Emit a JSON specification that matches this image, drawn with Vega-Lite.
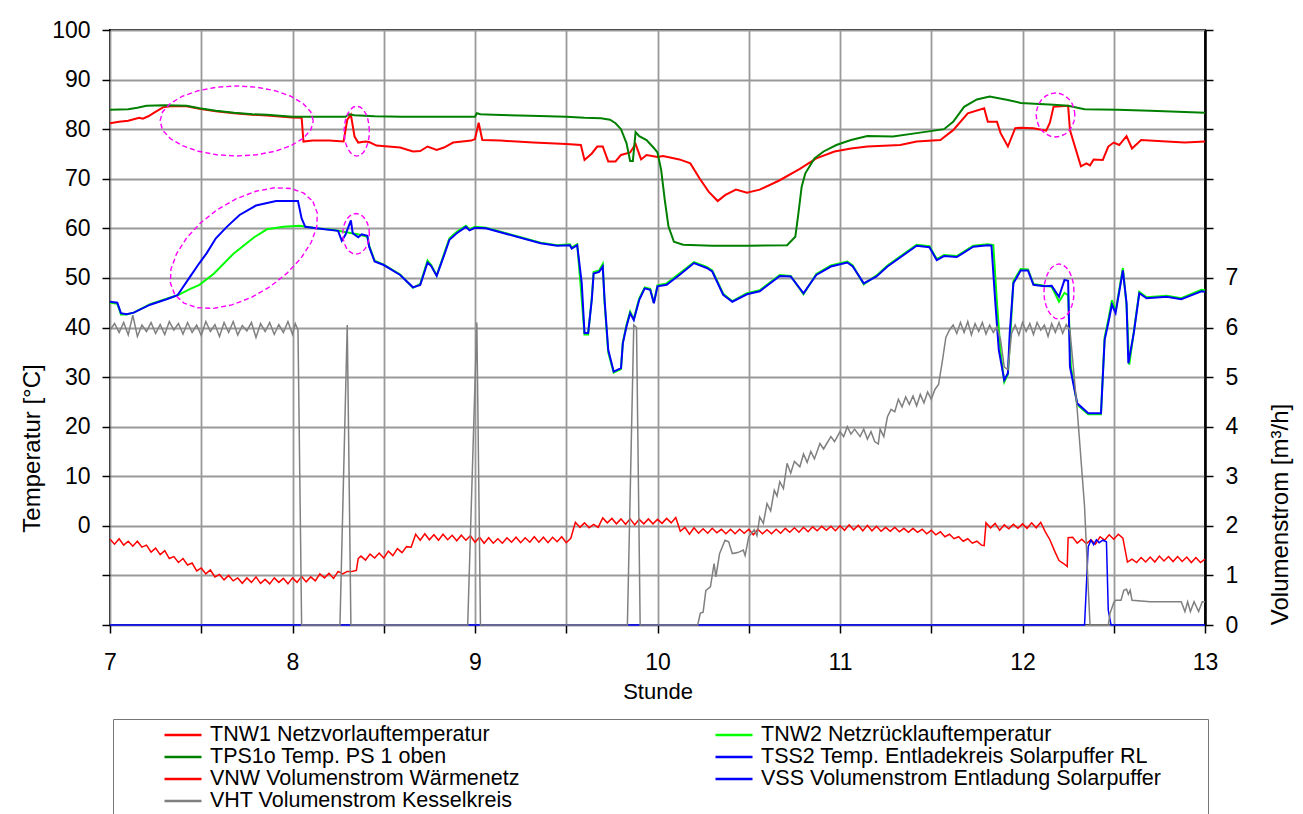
{
"$schema": "https://vega.github.io/schema/vega-lite/v6.json",
"width": 1095, "height": 595,
"autosize": {"type": "none"},
"padding": {"left": 110, "top": 30, "right": 98, "bottom": 189},
"background": "white",
"config": {
 "font": "Liberation Sans",
 "view": {"stroke": "#000", "strokeWidth": 2},
 "axis": {"labelFont": "Liberation Sans", "titleFont": "Liberation Sans", "labelColor": "#000", "titleColor": "#000", "tickColor": "#000", "domainColor": "#000", "titleFontWeight": "normal", "gridColor": "#999", "gridWidth": 1.8, "tickSize": 8, "tickWidth": 1.5, "labelFontSize": 23, "titleFontSize": 24}
},
"datasets": {
"temp": [
{"s":"TNW1","t":7,"v":81.2},{"s":"TNW1","t":7.05,"v":81.5},{"s":"TNW1","t":7.1,"v":81.7},{"s":"TNW1","t":7.13,"v":82.0},{"s":"TNW1","t":7.16,"v":82.3},{"s":"TNW1","t":7.18,"v":82.1},{"s":"TNW1","t":7.21,"v":82.6},{"s":"TNW1","t":7.24,"v":83.3},{"s":"TNW1","t":7.29,"v":84.4},{"s":"TNW1","t":7.33,"v":84.6},{"s":"TNW1","t":7.42,"v":84.6},{"s":"TNW1","t":7.49,"v":84.1},{"s":"TNW1","t":7.58,"v":83.6},{"s":"TNW1","t":7.68,"v":83.2},{"s":"TNW1","t":7.78,"v":82.9},{"s":"TNW1","t":7.86,"v":82.75},{"s":"TNW1","t":8.0,"v":82.35},{"s":"TNW1","t":8.05,"v":82.3},{"s":"TNW1","t":8.06,"v":77.5},{"s":"TNW1","t":8.11,"v":77.7},{"s":"TNW1","t":8.2,"v":77.7},{"s":"TNW1","t":8.28,"v":77.5},{"s":"TNW1","t":8.3,"v":81.9},{"s":"TNW1","t":8.32,"v":82.9},{"s":"TNW1","t":8.34,"v":78.5},{"s":"TNW1","t":8.36,"v":77.3},{"s":"TNW1","t":8.4,"v":77.5},{"s":"TNW1","t":8.42,"v":77.4},{"s":"TNW1","t":8.46,"v":76.7},{"s":"TNW1","t":8.59,"v":76.3},{"s":"TNW1","t":8.66,"v":75.5},{"s":"TNW1","t":8.7,"v":75.6},{"s":"TNW1","t":8.74,"v":76.5},{"s":"TNW1","t":8.79,"v":75.8},{"s":"TNW1","t":8.83,"v":76.3},{"s":"TNW1","t":8.88,"v":77.3},{"s":"TNW1","t":8.98,"v":77.7},{"s":"TNW1","t":9.0,"v":78.0},{"s":"TNW1","t":9.02,"v":81.3},{"s":"TNW1","t":9.04,"v":77.8},{"s":"TNW1","t":9.14,"v":77.7},{"s":"TNW1","t":9.32,"v":77.3},{"s":"TNW1","t":9.5,"v":77.0},{"s":"TNW1","t":9.58,"v":76.8},{"s":"TNW1","t":9.6,"v":73.8},{"s":"TNW1","t":9.64,"v":75.1},{"s":"TNW1","t":9.67,"v":76.5},{"s":"TNW1","t":9.7,"v":76.5},{"s":"TNW1","t":9.73,"v":73.5},{"s":"TNW1","t":9.77,"v":73.5},{"s":"TNW1","t":9.8,"v":74.8},{"s":"TNW1","t":9.85,"v":75.3},{"s":"TNW1","t":9.88,"v":77.0},{"s":"TNW1","t":9.91,"v":73.9},{"s":"TNW1","t":9.94,"v":74.8},{"s":"TNW1","t":10.0,"v":74.4},{"s":"TNW1","t":10.03,"v":74.6},{"s":"TNW1","t":10.12,"v":73.9},{"s":"TNW1","t":10.18,"v":73.1},{"s":"TNW1","t":10.23,"v":70.1},{"s":"TNW1","t":10.28,"v":67.4},{"s":"TNW1","t":10.33,"v":65.5},{"s":"TNW1","t":10.37,"v":66.7},{"s":"TNW1","t":10.43,"v":67.8},{"s":"TNW1","t":10.49,"v":67.2},{"s":"TNW1","t":10.56,"v":67.8},{"s":"TNW1","t":10.67,"v":69.7},{"s":"TNW1","t":10.78,"v":72.0},{"s":"TNW1","t":10.87,"v":74.1},{"s":"TNW1","t":10.97,"v":75.5},{"s":"TNW1","t":11.06,"v":76.1},{"s":"TNW1","t":11.15,"v":76.5},{"s":"TNW1","t":11.33,"v":76.8},{"s":"TNW1","t":11.42,"v":77.5},{"s":"TNW1","t":11.55,"v":77.8},{"s":"TNW1","t":11.62,"v":79.8},{"s":"TNW1","t":11.7,"v":83.2},{"s":"TNW1","t":11.79,"v":84.2},{"s":"TNW1","t":11.81,"v":81.5},{"s":"TNW1","t":11.86,"v":81.5},{"s":"TNW1","t":11.88,"v":79.2},{"s":"TNW1","t":11.92,"v":76.5},{"s":"TNW1","t":11.96,"v":80.2},{"s":"TNW1","t":11.99,"v":80.3},{"s":"TNW1","t":12.06,"v":80.2},{"s":"TNW1","t":12.13,"v":79.7},{"s":"TNW1","t":12.15,"v":81.3},{"s":"TNW1","t":12.17,"v":84.5},{"s":"TNW1","t":12.25,"v":84.7},{"s":"TNW1","t":12.26,"v":79.8},{"s":"TNW1","t":12.32,"v":72.5},{"s":"TNW1","t":12.35,"v":73.1},{"s":"TNW1","t":12.37,"v":72.7},{"s":"TNW1","t":12.39,"v":73.9},{"s":"TNW1","t":12.44,"v":73.8},{"s":"TNW1","t":12.47,"v":76.5},{"s":"TNW1","t":12.5,"v":77.3},{"s":"TNW1","t":12.53,"v":76.8},{"s":"TNW1","t":12.57,"v":78.6},{"s":"TNW1","t":12.6,"v":76.1},{"s":"TNW1","t":12.65,"v":77.8},{"s":"TNW1","t":12.79,"v":77.5},{"s":"TNW1","t":12.89,"v":77.3},{"s":"TNW1","t":13.0,"v":77.5},
{"s":"TNW2","t":7,"v":45.0},{"s":"TNW2","t":7.04,"v":44.8},{"s":"TNW2","t":7.06,"v":42.6},{"s":"TNW2","t":7.09,"v":42.6},{"s":"TNW2","t":7.13,"v":43.0},{"s":"TNW2","t":7.22,"v":44.7},{"s":"TNW2","t":7.31,"v":45.8},{"s":"TNW2","t":7.37,"v":46.5},{"s":"TNW2","t":7.44,"v":47.8},{"s":"TNW2","t":7.49,"v":48.6},{"s":"TNW2","t":7.57,"v":50.9},{"s":"TNW2","t":7.68,"v":55.0},{"s":"TNW2","t":7.79,"v":58.2},{"s":"TNW2","t":7.86,"v":59.8},{"s":"TNW2","t":7.95,"v":60.3},{"s":"TNW2","t":8.04,"v":60.5},{"s":"TNW2","t":8.13,"v":60.0},{"s":"TNW2","t":8.22,"v":59.7},{"s":"TNW2","t":8.28,"v":59.3},{"s":"TNW2","t":8.37,"v":58.7},{"s":"TNW2","t":8.41,"v":58.3},{"s":"TNW2","t":8.42,"v":56.5},{"s":"TNW2","t":8.45,"v":53.5},{"s":"TNW2","t":8.5,"v":52.7},{"s":"TNW2","t":8.59,"v":50.7},{"s":"TNW2","t":8.66,"v":48.0},{"s":"TNW2","t":8.7,"v":48.8},{"s":"TNW2","t":8.74,"v":53.5},{"s":"TNW2","t":8.76,"v":52.6},{"s":"TNW2","t":8.79,"v":50.5},{"s":"TNW2","t":8.83,"v":54.8},{"s":"TNW2","t":8.86,"v":58.0},{"s":"TNW2","t":8.9,"v":59.3},{"s":"TNW2","t":8.95,"v":60.5},{"s":"TNW2","t":8.97,"v":59.8},{"s":"TNW2","t":9.0,"v":60.3},{"s":"TNW2","t":9.06,"v":60.1},{"s":"TNW2","t":9.23,"v":58.4},{"s":"TNW2","t":9.36,"v":57.1},{"s":"TNW2","t":9.45,"v":56.6},{"s":"TNW2","t":9.52,"v":56.8},{"s":"TNW2","t":9.53,"v":56.1},{"s":"TNW2","t":9.56,"v":56.8},{"s":"TNW2","t":9.58,"v":48.0},{"s":"TNW2","t":9.6,"v":38.6},{"s":"TNW2","t":9.62,"v":38.6},{"s":"TNW2","t":9.64,"v":46.0},{"s":"TNW2","t":9.65,"v":51.2},{"s":"TNW2","t":9.68,"v":51.5},{"s":"TNW2","t":9.7,"v":52.8},{"s":"TNW2","t":9.71,"v":45.0},{"s":"TNW2","t":9.73,"v":35.0},{"s":"TNW2","t":9.76,"v":30.9},{"s":"TNW2","t":9.8,"v":31.6},{"s":"TNW2","t":9.81,"v":37.0},{"s":"TNW2","t":9.83,"v":40.5},{"s":"TNW2","t":9.85,"v":43.2},{"s":"TNW2","t":9.87,"v":41.7},{"s":"TNW2","t":9.9,"v":45.9},{"s":"TNW2","t":9.93,"v":48.1},{"s":"TNW2","t":9.96,"v":47.8},{"s":"TNW2","t":9.98,"v":45.0},{"s":"TNW2","t":10.0,"v":48.5},{"s":"TNW2","t":10.05,"v":48.9},{"s":"TNW2","t":10.12,"v":50.9},{"s":"TNW2","t":10.2,"v":53.2},{"s":"TNW2","t":10.27,"v":52.2},{"s":"TNW2","t":10.3,"v":51.5},{"s":"TNW2","t":10.36,"v":46.8},{"s":"TNW2","t":10.41,"v":45.3},{"s":"TNW2","t":10.49,"v":46.9},{"s":"TNW2","t":10.56,"v":47.5},{"s":"TNW2","t":10.67,"v":50.6},{"s":"TNW2","t":10.73,"v":50.4},{"s":"TNW2","t":10.8,"v":46.7},{"s":"TNW2","t":10.87,"v":50.8},{"s":"TNW2","t":10.95,"v":52.5},{"s":"TNW2","t":11.04,"v":53.3},{"s":"TNW2","t":11.07,"v":52.5},{"s":"TNW2","t":11.13,"v":48.7},{"s":"TNW2","t":11.2,"v":50.5},{"s":"TNW2","t":11.26,"v":52.5},{"s":"TNW2","t":11.42,"v":56.7},{"s":"TNW2","t":11.49,"v":56.4},{"s":"TNW2","t":11.53,"v":53.8},{"s":"TNW2","t":11.57,"v":54.6},{"s":"TNW2","t":11.64,"v":54.4},{"s":"TNW2","t":11.73,"v":56.5},{"s":"TNW2","t":11.81,"v":56.8},{"s":"TNW2","t":11.84,"v":56.6},{"s":"TNW2","t":11.86,"v":45.0},{"s":"TNW2","t":11.88,"v":35.0},{"s":"TNW2","t":11.9,"v":29.0},{"s":"TNW2","t":11.92,"v":30.5},{"s":"TNW2","t":11.935,"v":39.5},{"s":"TNW2","t":11.95,"v":49.3},{"s":"TNW2","t":11.99,"v":51.8},{"s":"TNW2","t":12.03,"v":51.7},{"s":"TNW2","t":12.06,"v":48.8},{"s":"TNW2","t":12.12,"v":48.4},{"s":"TNW2","t":12.16,"v":48.2},{"s":"TNW2","t":12.2,"v":45.2},{"s":"TNW2","t":12.23,"v":47.0},{"s":"TNW2","t":12.25,"v":46.5},{"s":"TNW2","t":12.265,"v":32.1},{"s":"TNW2","t":12.3,"v":24.4},{"s":"TNW2","t":12.36,"v":22.5},{"s":"TNW2","t":12.43,"v":22.5},{"s":"TNW2","t":12.45,"v":38.0},{"s":"TNW2","t":12.47,"v":41.5},{"s":"TNW2","t":12.49,"v":45.5},{"s":"TNW2","t":12.51,"v":43.2},{"s":"TNW2","t":12.55,"v":52.0},{"s":"TNW2","t":12.57,"v":44.5},{"s":"TNW2","t":12.585,"v":32.5},{"s":"TNW2","t":12.61,"v":39.2},{"s":"TNW2","t":12.64,"v":47.2},{"s":"TNW2","t":12.68,"v":46.1},{"s":"TNW2","t":12.79,"v":46.4},{"s":"TNW2","t":12.87,"v":45.9},{"s":"TNW2","t":12.98,"v":47.6},{"s":"TNW2","t":13.0,"v":47.5},
{"s":"TPS1o","t":7,"v":83.9},{"s":"TPS1o","t":7.1,"v":84.0},{"s":"TPS1o","t":7.15,"v":84.3},{"s":"TPS1o","t":7.2,"v":84.7},{"s":"TPS1o","t":7.3,"v":84.8},{"s":"TPS1o","t":7.42,"v":84.7},{"s":"TPS1o","t":7.49,"v":84.2},{"s":"TPS1o","t":7.58,"v":83.7},{"s":"TPS1o","t":7.68,"v":83.3},{"s":"TPS1o","t":7.78,"v":83.0},{"s":"TPS1o","t":7.86,"v":82.9},{"s":"TPS1o","t":8.0,"v":82.5},{"s":"TPS1o","t":8.1,"v":82.5},{"s":"TPS1o","t":8.29,"v":82.5},{"s":"TPS1o","t":8.31,"v":83.0},{"s":"TPS1o","t":8.34,"v":82.8},{"s":"TPS1o","t":8.45,"v":82.6},{"s":"TPS1o","t":8.6,"v":82.5},{"s":"TPS1o","t":8.8,"v":82.5},{"s":"TPS1o","t":9.0,"v":82.5},{"s":"TPS1o","t":9.01,"v":83.2},{"s":"TPS1o","t":9.03,"v":83.0},{"s":"TPS1o","t":9.1,"v":82.9},{"s":"TPS1o","t":9.3,"v":82.7},{"s":"TPS1o","t":9.5,"v":82.5},{"s":"TPS1o","t":9.6,"v":82.3},{"s":"TPS1o","t":9.69,"v":82.2},{"s":"TPS1o","t":9.74,"v":81.9},{"s":"TPS1o","t":9.77,"v":81.2},{"s":"TPS1o","t":9.8,"v":80.0},{"s":"TPS1o","t":9.83,"v":77.2},{"s":"TPS1o","t":9.85,"v":73.6},{"s":"TPS1o","t":9.865,"v":73.6},{"s":"TPS1o","t":9.88,"v":79.4},{"s":"TPS1o","t":9.9,"v":78.6},{"s":"TPS1o","t":9.94,"v":77.8},{"s":"TPS1o","t":9.98,"v":76.2},{"s":"TPS1o","t":10.0,"v":75.3},{"s":"TPS1o","t":10.02,"v":71.8},{"s":"TPS1o","t":10.04,"v":65.7},{"s":"TPS1o","t":10.06,"v":60.4},{"s":"TPS1o","t":10.09,"v":57.3},{"s":"TPS1o","t":10.14,"v":56.7},{"s":"TPS1o","t":10.3,"v":56.5},{"s":"TPS1o","t":10.5,"v":56.5},{"s":"TPS1o","t":10.71,"v":56.6},{"s":"TPS1o","t":10.755,"v":58.3},{"s":"TPS1o","t":10.77,"v":62.4},{"s":"TPS1o","t":10.79,"v":68.4},{"s":"TPS1o","t":10.81,"v":71.1},{"s":"TPS1o","t":10.86,"v":74.1},{"s":"TPS1o","t":10.91,"v":75.5},{"s":"TPS1o","t":10.98,"v":76.8},{"s":"TPS1o","t":11.06,"v":77.8},{"s":"TPS1o","t":11.15,"v":78.6},{"s":"TPS1o","t":11.29,"v":78.5},{"s":"TPS1o","t":11.42,"v":79.2},{"s":"TPS1o","t":11.57,"v":80.0},{"s":"TPS1o","t":11.62,"v":81.5},{"s":"TPS1o","t":11.68,"v":84.5},{"s":"TPS1o","t":11.75,"v":86.0},{"s":"TPS1o","t":11.82,"v":86.6},{"s":"TPS1o","t":11.92,"v":85.9},{"s":"TPS1o","t":11.99,"v":85.3},{"s":"TPS1o","t":12.17,"v":84.9},{"s":"TPS1o","t":12.25,"v":84.7},{"s":"TPS1o","t":12.34,"v":84.0},{"s":"TPS1o","t":12.52,"v":83.9},{"s":"TPS1o","t":12.7,"v":83.7},{"s":"TPS1o","t":13.0,"v":83.3},
{"s":"TSS2","t":7,"v":45.2},{"s":"TSS2","t":7.04,"v":45.0},{"s":"TSS2","t":7.06,"v":42.9},{"s":"TSS2","t":7.09,"v":42.7},{"s":"TSS2","t":7.13,"v":43.0},{"s":"TSS2","t":7.22,"v":44.6},{"s":"TSS2","t":7.31,"v":45.7},{"s":"TSS2","t":7.37,"v":46.5},{"s":"TSS2","t":7.44,"v":50.3},{"s":"TSS2","t":7.49,"v":53.0},{"s":"TSS2","t":7.53,"v":55.0},{"s":"TSS2","t":7.58,"v":58.0},{"s":"TSS2","t":7.64,"v":60.3},{"s":"TSS2","t":7.71,"v":62.7},{"s":"TSS2","t":7.8,"v":64.6},{"s":"TSS2","t":7.91,"v":65.5},{"s":"TSS2","t":8.03,"v":65.5},{"s":"TSS2","t":8.05,"v":62.0},{"s":"TSS2","t":8.07,"v":60.3},{"s":"TSS2","t":8.13,"v":60.0},{"s":"TSS2","t":8.25,"v":59.5},{"s":"TSS2","t":8.27,"v":57.5},{"s":"TSS2","t":8.29,"v":58.7},{"s":"TSS2","t":8.32,"v":61.6},{"s":"TSS2","t":8.33,"v":59.0},{"s":"TSS2","t":8.36,"v":58.2},{"s":"TSS2","t":8.38,"v":58.8},{"s":"TSS2","t":8.41,"v":58.5},{"s":"TSS2","t":8.42,"v":56.3},{"s":"TSS2","t":8.45,"v":53.3},{"s":"TSS2","t":8.5,"v":52.6},{"s":"TSS2","t":8.59,"v":50.6},{"s":"TSS2","t":8.66,"v":48.1},{"s":"TSS2","t":8.7,"v":48.6},{"s":"TSS2","t":8.74,"v":53.1},{"s":"TSS2","t":8.76,"v":52.4},{"s":"TSS2","t":8.79,"v":50.4},{"s":"TSS2","t":8.83,"v":54.5},{"s":"TSS2","t":8.86,"v":57.7},{"s":"TSS2","t":8.9,"v":59.0},{"s":"TSS2","t":8.95,"v":60.3},{"s":"TSS2","t":8.97,"v":59.6},{"s":"TSS2","t":9.0,"v":60.1},{"s":"TSS2","t":9.06,"v":60.0},{"s":"TSS2","t":9.23,"v":58.3},{"s":"TSS2","t":9.36,"v":57.0},{"s":"TSS2","t":9.45,"v":56.5},{"s":"TSS2","t":9.52,"v":56.6},{"s":"TSS2","t":9.53,"v":55.9},{"s":"TSS2","t":9.56,"v":56.6},{"s":"TSS2","t":9.585,"v":48.9},{"s":"TSS2","t":9.6,"v":38.9},{"s":"TSS2","t":9.62,"v":38.9},{"s":"TSS2","t":9.64,"v":45.6},{"s":"TSS2","t":9.65,"v":50.9},{"s":"TSS2","t":9.68,"v":51.2},{"s":"TSS2","t":9.7,"v":52.3},{"s":"TSS2","t":9.71,"v":45.6},{"s":"TSS2","t":9.73,"v":35.5},{"s":"TSS2","t":9.76,"v":31.1},{"s":"TSS2","t":9.8,"v":31.8},{"s":"TSS2","t":9.81,"v":36.8},{"s":"TSS2","t":9.83,"v":40.2},{"s":"TSS2","t":9.85,"v":42.9},{"s":"TSS2","t":9.87,"v":41.5},{"s":"TSS2","t":9.9,"v":45.6},{"s":"TSS2","t":9.93,"v":47.9},{"s":"TSS2","t":9.96,"v":47.6},{"s":"TSS2","t":9.98,"v":44.9},{"s":"TSS2","t":10.0,"v":48.3},{"s":"TSS2","t":10.05,"v":48.6},{"s":"TSS2","t":10.12,"v":50.6},{"s":"TSS2","t":10.2,"v":53.0},{"s":"TSS2","t":10.27,"v":52.0},{"s":"TSS2","t":10.3,"v":51.3},{"s":"TSS2","t":10.36,"v":46.6},{"s":"TSS2","t":10.41,"v":45.2},{"s":"TSS2","t":10.49,"v":46.7},{"s":"TSS2","t":10.56,"v":47.3},{"s":"TSS2","t":10.67,"v":50.4},{"s":"TSS2","t":10.73,"v":50.3},{"s":"TSS2","t":10.8,"v":46.9},{"s":"TSS2","t":10.87,"v":50.6},{"s":"TSS2","t":10.95,"v":52.3},{"s":"TSS2","t":11.04,"v":53.1},{"s":"TSS2","t":11.07,"v":52.3},{"s":"TSS2","t":11.13,"v":48.9},{"s":"TSS2","t":11.2,"v":50.3},{"s":"TSS2","t":11.26,"v":52.3},{"s":"TSS2","t":11.42,"v":56.5},{"s":"TSS2","t":11.49,"v":56.2},{"s":"TSS2","t":11.53,"v":53.6},{"s":"TSS2","t":11.57,"v":54.4},{"s":"TSS2","t":11.64,"v":54.2},{"s":"TSS2","t":11.73,"v":56.3},{"s":"TSS2","t":11.81,"v":56.6},{"s":"TSS2","t":11.83,"v":56.5},{"s":"TSS2","t":11.85,"v":45.6},{"s":"TSS2","t":11.87,"v":35.5},{"s":"TSS2","t":11.9,"v":29.4},{"s":"TSS2","t":11.92,"v":30.8},{"s":"TSS2","t":11.93,"v":38.9},{"s":"TSS2","t":11.95,"v":48.9},{"s":"TSS2","t":11.99,"v":51.5},{"s":"TSS2","t":12.03,"v":51.5},{"s":"TSS2","t":12.06,"v":48.6},{"s":"TSS2","t":12.12,"v":48.3},{"s":"TSS2","t":12.16,"v":48.4},{"s":"TSS2","t":12.2,"v":46.2},{"s":"TSS2","t":12.23,"v":49.6},{"s":"TSS2","t":12.25,"v":49.4},{"s":"TSS2","t":12.26,"v":32.1},{"s":"TSS2","t":12.3,"v":24.7},{"s":"TSS2","t":12.36,"v":22.7},{"s":"TSS2","t":12.43,"v":22.7},{"s":"TSS2","t":12.45,"v":37.5},{"s":"TSS2","t":12.47,"v":40.9},{"s":"TSS2","t":12.49,"v":44.6},{"s":"TSS2","t":12.51,"v":42.9},{"s":"TSS2","t":12.55,"v":51.5},{"s":"TSS2","t":12.57,"v":45.0},{"s":"TSS2","t":12.58,"v":32.8},{"s":"TSS2","t":12.61,"v":38.9},{"s":"TSS2","t":12.64,"v":46.9},{"s":"TSS2","t":12.68,"v":45.9},{"s":"TSS2","t":12.79,"v":46.2},{"s":"TSS2","t":12.87,"v":45.7},{"s":"TSS2","t":12.98,"v":47.3},{"s":"TSS2","t":13.0,"v":47.2}
],
"flow": [
{"s":"VNW","t":7,"v":1.73},{"s":"VNW","t":7.025,"v":1.63},{"s":"VNW","t":7.05,"v":1.74},{"s":"VNW","t":7.075,"v":1.61},{"s":"VNW","t":7.1,"v":1.69},{"s":"VNW","t":7.125,"v":1.59},{"s":"VNW","t":7.15,"v":1.69},{"s":"VNW","t":7.175,"v":1.57},{"s":"VNW","t":7.2,"v":1.61},{"s":"VNW","t":7.225,"v":1.47},{"s":"VNW","t":7.25,"v":1.55},{"s":"VNW","t":7.275,"v":1.42},{"s":"VNW","t":7.3,"v":1.5},{"s":"VNW","t":7.325,"v":1.34},{"s":"VNW","t":7.35,"v":1.38},{"s":"VNW","t":7.375,"v":1.26},{"s":"VNW","t":7.4,"v":1.34},{"s":"VNW","t":7.425,"v":1.21},{"s":"VNW","t":7.45,"v":1.25},{"s":"VNW","t":7.475,"v":1.09},{"s":"VNW","t":7.5,"v":1.15},{"s":"VNW","t":7.525,"v":1.03},{"s":"VNW","t":7.55,"v":1.11},{"s":"VNW","t":7.575,"v":0.97},{"s":"VNW","t":7.6,"v":1.02},{"s":"VNW","t":7.625,"v":0.91},{"s":"VNW","t":7.65,"v":1.0},{"s":"VNW","t":7.675,"v":0.89},{"s":"VNW","t":7.7,"v":0.95},{"s":"VNW","t":7.725,"v":0.84},{"s":"VNW","t":7.75,"v":0.95},{"s":"VNW","t":7.775,"v":0.86},{"s":"VNW","t":7.8,"v":0.97},{"s":"VNW","t":7.825,"v":0.84},{"s":"VNW","t":7.85,"v":0.92},{"s":"VNW","t":7.875,"v":0.83},{"s":"VNW","t":7.9,"v":0.95},{"s":"VNW","t":7.925,"v":0.86},{"s":"VNW","t":7.95,"v":0.94},{"s":"VNW","t":7.975,"v":0.83},{"s":"VNW","t":8,"v":0.95},{"s":"VNW","t":8.025,"v":0.86},{"s":"VNW","t":8.05,"v":0.98},{"s":"VNW","t":8.075,"v":0.87},{"s":"VNW","t":8.1,"v":0.97},{"s":"VNW","t":8.125,"v":0.89},{"s":"VNW","t":8.15,"v":1.03},{"s":"VNW","t":8.175,"v":0.95},{"s":"VNW","t":8.2,"v":1.04},{"s":"VNW","t":8.225,"v":0.94},{"s":"VNW","t":8.25,"v":1.08},{"s":"VNW","t":8.275,"v":1.03},{"s":"VNW","t":8.3,"v":1.08},{"s":"VNW","t":8.325,"v":1.08},{"s":"VNW","t":8.35,"v":1.1},{"s":"VNW","t":8.36,"v":1.34},{"s":"VNW","t":8.375,"v":1.39},{"s":"VNW","t":8.4,"v":1.31},{"s":"VNW","t":8.425,"v":1.43},{"s":"VNW","t":8.45,"v":1.35},{"s":"VNW","t":8.475,"v":1.45},{"s":"VNW","t":8.5,"v":1.35},{"s":"VNW","t":8.525,"v":1.49},{"s":"VNW","t":8.55,"v":1.4},{"s":"VNW","t":8.575,"v":1.54},{"s":"VNW","t":8.6,"v":1.46},{"s":"VNW","t":8.625,"v":1.58},{"s":"VNW","t":8.65,"v":1.57},{"s":"VNW","t":8.675,"v":1.83},{"s":"VNW","t":8.7,"v":1.71},{"s":"VNW","t":8.725,"v":1.84},{"s":"VNW","t":8.75,"v":1.72},{"s":"VNW","t":8.775,"v":1.82},{"s":"VNW","t":8.8,"v":1.71},{"s":"VNW","t":8.825,"v":1.83},{"s":"VNW","t":8.85,"v":1.72},{"s":"VNW","t":8.875,"v":1.81},{"s":"VNW","t":8.9,"v":1.7},{"s":"VNW","t":8.925,"v":1.81},{"s":"VNW","t":8.95,"v":1.71},{"s":"VNW","t":8.975,"v":1.8},{"s":"VNW","t":9,"v":1.67},{"s":"VNW","t":9.025,"v":1.77},{"s":"VNW","t":9.05,"v":1.65},{"s":"VNW","t":9.075,"v":1.76},{"s":"VNW","t":9.1,"v":1.65},{"s":"VNW","t":9.125,"v":1.74},{"s":"VNW","t":9.15,"v":1.65},{"s":"VNW","t":9.175,"v":1.76},{"s":"VNW","t":9.2,"v":1.67},{"s":"VNW","t":9.225,"v":1.77},{"s":"VNW","t":9.25,"v":1.66},{"s":"VNW","t":9.275,"v":1.76},{"s":"VNW","t":9.3,"v":1.67},{"s":"VNW","t":9.325,"v":1.78},{"s":"VNW","t":9.35,"v":1.67},{"s":"VNW","t":9.375,"v":1.77},{"s":"VNW","t":9.4,"v":1.66},{"s":"VNW","t":9.425,"v":1.77},{"s":"VNW","t":9.45,"v":1.68},{"s":"VNW","t":9.475,"v":1.78},{"s":"VNW","t":9.5,"v":1.66},{"s":"VNW","t":9.525,"v":1.75},{"s":"VNW","t":9.55,"v":2.07},{"s":"VNW","t":9.575,"v":1.97},{"s":"VNW","t":9.6,"v":2.06},{"s":"VNW","t":9.625,"v":1.96},{"s":"VNW","t":9.65,"v":2.03},{"s":"VNW","t":9.675,"v":1.97},{"s":"VNW","t":9.7,"v":2.16},{"s":"VNW","t":9.725,"v":2.06},{"s":"VNW","t":9.75,"v":2.15},{"s":"VNW","t":9.775,"v":2.04},{"s":"VNW","t":9.8,"v":2.14},{"s":"VNW","t":9.825,"v":2.03},{"s":"VNW","t":9.85,"v":2.14},{"s":"VNW","t":9.875,"v":2.02},{"s":"VNW","t":9.9,"v":2.13},{"s":"VNW","t":9.925,"v":2.04},{"s":"VNW","t":9.95,"v":2.14},{"s":"VNW","t":9.975,"v":2.04},{"s":"VNW","t":10,"v":2.13},{"s":"VNW","t":10.025,"v":2.05},{"s":"VNW","t":10.05,"v":2.15},{"s":"VNW","t":10.075,"v":2.06},{"s":"VNW","t":10.1,"v":2.17},{"s":"VNW","t":10.125,"v":1.89},{"s":"VNW","t":10.15,"v":1.97},{"s":"VNW","t":10.175,"v":1.83},{"s":"VNW","t":10.2,"v":1.96},{"s":"VNW","t":10.225,"v":1.85},{"s":"VNW","t":10.25,"v":1.94},{"s":"VNW","t":10.275,"v":1.85},{"s":"VNW","t":10.3,"v":1.95},{"s":"VNW","t":10.325,"v":1.86},{"s":"VNW","t":10.35,"v":1.93},{"s":"VNW","t":10.375,"v":1.84},{"s":"VNW","t":10.4,"v":1.93},{"s":"VNW","t":10.425,"v":1.84},{"s":"VNW","t":10.45,"v":1.93},{"s":"VNW","t":10.475,"v":1.85},{"s":"VNW","t":10.5,"v":1.93},{"s":"VNW","t":10.525,"v":1.82},{"s":"VNW","t":10.55,"v":1.93},{"s":"VNW","t":10.575,"v":1.84},{"s":"VNW","t":10.6,"v":1.92},{"s":"VNW","t":10.625,"v":1.84},{"s":"VNW","t":10.65,"v":1.93},{"s":"VNW","t":10.675,"v":1.85},{"s":"VNW","t":10.7,"v":1.95},{"s":"VNW","t":10.725,"v":1.87},{"s":"VNW","t":10.75,"v":1.96},{"s":"VNW","t":10.775,"v":1.87},{"s":"VNW","t":10.8,"v":1.97},{"s":"VNW","t":10.825,"v":1.88},{"s":"VNW","t":10.85,"v":1.98},{"s":"VNW","t":10.875,"v":1.9},{"s":"VNW","t":10.9,"v":1.99},{"s":"VNW","t":10.925,"v":1.91},{"s":"VNW","t":10.95,"v":1.99},{"s":"VNW","t":10.975,"v":1.9},{"s":"VNW","t":11,"v":2.0},{"s":"VNW","t":11.025,"v":1.91},{"s":"VNW","t":11.05,"v":2.02},{"s":"VNW","t":11.075,"v":1.92},{"s":"VNW","t":11.1,"v":2.01},{"s":"VNW","t":11.125,"v":1.9},{"s":"VNW","t":11.15,"v":2.01},{"s":"VNW","t":11.175,"v":1.9},{"s":"VNW","t":11.2,"v":1.99},{"s":"VNW","t":11.225,"v":1.89},{"s":"VNW","t":11.25,"v":1.97},{"s":"VNW","t":11.275,"v":1.89},{"s":"VNW","t":11.3,"v":1.97},{"s":"VNW","t":11.325,"v":1.88},{"s":"VNW","t":11.35,"v":1.95},{"s":"VNW","t":11.375,"v":1.87},{"s":"VNW","t":11.4,"v":1.95},{"s":"VNW","t":11.425,"v":1.87},{"s":"VNW","t":11.45,"v":1.93},{"s":"VNW","t":11.475,"v":1.84},{"s":"VNW","t":11.5,"v":1.91},{"s":"VNW","t":11.525,"v":1.82},{"s":"VNW","t":11.55,"v":1.88},{"s":"VNW","t":11.575,"v":1.78},{"s":"VNW","t":11.6,"v":1.83},{"s":"VNW","t":11.625,"v":1.74},{"s":"VNW","t":11.65,"v":1.78},{"s":"VNW","t":11.675,"v":1.69},{"s":"VNW","t":11.7,"v":1.74},{"s":"VNW","t":11.725,"v":1.65},{"s":"VNW","t":11.75,"v":1.69},{"s":"VNW","t":11.775,"v":1.61},{"s":"VNW","t":11.79,"v":1.6},{"s":"VNW","t":11.8,"v":2.06},{"s":"VNW","t":11.825,"v":1.96},{"s":"VNW","t":11.85,"v":2.05},{"s":"VNW","t":11.875,"v":1.91},{"s":"VNW","t":11.9,"v":2.02},{"s":"VNW","t":11.925,"v":1.94},{"s":"VNW","t":11.95,"v":2.03},{"s":"VNW","t":11.975,"v":1.95},{"s":"VNW","t":12,"v":2.04},{"s":"VNW","t":12.025,"v":1.95},{"s":"VNW","t":12.05,"v":2.06},{"s":"VNW","t":12.075,"v":1.96},{"s":"VNW","t":12.1,"v":2.07},{"s":"VNW","t":12.125,"v":1.88},{"s":"VNW","t":12.15,"v":1.72},{"s":"VNW","t":12.175,"v":1.5},{"s":"VNW","t":12.2,"v":1.3},{"s":"VNW","t":12.225,"v":1.24},{"s":"VNW","t":12.245,"v":1.18},{"s":"VNW","t":12.25,"v":1.76},{"s":"VNW","t":12.275,"v":1.77},{"s":"VNW","t":12.3,"v":1.65},{"s":"VNW","t":12.325,"v":1.73},{"s":"VNW","t":12.35,"v":1.64},{"s":"VNW","t":12.375,"v":1.72},{"s":"VNW","t":12.4,"v":1.63},{"s":"VNW","t":12.425,"v":1.78},{"s":"VNW","t":12.45,"v":1.71},{"s":"VNW","t":12.475,"v":1.82},{"s":"VNW","t":12.5,"v":1.73},{"s":"VNW","t":12.525,"v":1.83},{"s":"VNW","t":12.55,"v":1.75},{"s":"VNW","t":12.575,"v":1.27},{"s":"VNW","t":12.6,"v":1.33},{"s":"VNW","t":12.625,"v":1.26},{"s":"VNW","t":12.65,"v":1.36},{"s":"VNW","t":12.675,"v":1.27},{"s":"VNW","t":12.7,"v":1.37},{"s":"VNW","t":12.725,"v":1.27},{"s":"VNW","t":12.75,"v":1.39},{"s":"VNW","t":12.775,"v":1.29},{"s":"VNW","t":12.8,"v":1.38},{"s":"VNW","t":12.825,"v":1.28},{"s":"VNW","t":12.85,"v":1.38},{"s":"VNW","t":12.875,"v":1.28},{"s":"VNW","t":12.9,"v":1.37},{"s":"VNW","t":12.925,"v":1.26},{"s":"VNW","t":12.95,"v":1.36},{"s":"VNW","t":12.975,"v":1.26},{"s":"VNW","t":13,"v":1.33},
{"s":"VSS","t":7,"v":0},{"s":"VSS","t":12.34,"v":0},{"s":"VSS","t":12.36,"v":1.58},{"s":"VSS","t":12.375,"v":1.71},{"s":"VSS","t":12.39,"v":1.62},{"s":"VSS","t":12.405,"v":1.72},{"s":"VSS","t":12.42,"v":1.66},{"s":"VSS","t":12.44,"v":1.71},{"s":"VSS","t":12.46,"v":1.68},{"s":"VSS","t":12.47,"v":0.3},{"s":"VSS","t":12.485,"v":0},{"s":"VSS","t":13,"v":0},
{"s":"VHT","t":7,"v":5.95},{"s":"VHT","t":7.025,"v":6.08},{"s":"VHT","t":7.05,"v":5.9},{"s":"VHT","t":7.075,"v":6.1},{"s":"VHT","t":7.1,"v":5.85},{"s":"VHT","t":7.125,"v":6.25},{"s":"VHT","t":7.15,"v":5.82},{"s":"VHT","t":7.175,"v":6.05},{"s":"VHT","t":7.2,"v":5.92},{"s":"VHT","t":7.225,"v":6.1},{"s":"VHT","t":7.25,"v":5.88},{"s":"VHT","t":7.275,"v":6.06},{"s":"VHT","t":7.3,"v":5.86},{"s":"VHT","t":7.325,"v":6.12},{"s":"VHT","t":7.35,"v":5.95},{"s":"VHT","t":7.375,"v":6.08},{"s":"VHT","t":7.4,"v":5.87},{"s":"VHT","t":7.425,"v":6.1},{"s":"VHT","t":7.45,"v":5.9},{"s":"VHT","t":7.475,"v":6.05},{"s":"VHT","t":7.5,"v":5.84},{"s":"VHT","t":7.525,"v":6.12},{"s":"VHT","t":7.55,"v":5.92},{"s":"VHT","t":7.575,"v":6.06},{"s":"VHT","t":7.6,"v":5.82},{"s":"VHT","t":7.625,"v":6.1},{"s":"VHT","t":7.65,"v":5.9},{"s":"VHT","t":7.675,"v":6.12},{"s":"VHT","t":7.7,"v":5.85},{"s":"VHT","t":7.725,"v":6.04},{"s":"VHT","t":7.75,"v":5.93},{"s":"VHT","t":7.775,"v":6.1},{"s":"VHT","t":7.8,"v":5.8},{"s":"VHT","t":7.825,"v":6.08},{"s":"VHT","t":7.85,"v":5.92},{"s":"VHT","t":7.875,"v":6.1},{"s":"VHT","t":7.9,"v":5.86},{"s":"VHT","t":7.925,"v":6.06},{"s":"VHT","t":7.95,"v":5.9},{"s":"VHT","t":7.975,"v":6.12},{"s":"VHT","t":8,"v":5.86},{"s":"VHT","t":8.015,"v":6.08},{"s":"VHT","t":8.03,"v":5.95},{"s":"VHT","t":8.05,"v":0},{"s":"VHT","t":8.26,"v":0},{"s":"VHT","t":8.3,"v":6.05},{"s":"VHT","t":8.32,"v":0},{"s":"VHT","t":8.96,"v":0},{"s":"VHT","t":9.01,"v":6.1},{"s":"VHT","t":9.03,"v":0},{"s":"VHT","t":9.835,"v":0},{"s":"VHT","t":9.87,"v":6.05},{"s":"VHT","t":9.885,"v":6.0},{"s":"VHT","t":9.905,"v":0},{"s":"VHT","t":10.22,"v":0},{"s":"VHT","t":10.235,"v":0.24},{"s":"VHT","t":10.25,"v":0.26},{"s":"VHT","t":10.265,"v":0.7},{"s":"VHT","t":10.29,"v":0.77},{"s":"VHT","t":10.31,"v":1.24},{"s":"VHT","t":10.32,"v":0.97},{"s":"VHT","t":10.34,"v":1.44},{"s":"VHT","t":10.37,"v":1.71},{"s":"VHT","t":10.39,"v":1.68},{"s":"VHT","t":10.41,"v":1.44},{"s":"VHT","t":10.44,"v":1.46},{"s":"VHT","t":10.47,"v":1.51},{"s":"VHT","t":10.48,"v":1.4},{"s":"VHT","t":10.5,"v":1.78},{"s":"VHT","t":10.53,"v":1.92},{"s":"VHT","t":10.545,"v":1.8},{"s":"VHT","t":10.56,"v":2.18},{"s":"VHT","t":10.58,"v":2.05},{"s":"VHT","t":10.6,"v":2.45},{"s":"VHT","t":10.62,"v":2.3},{"s":"VHT","t":10.64,"v":2.72},{"s":"VHT","t":10.655,"v":2.6},{"s":"VHT","t":10.67,"v":2.89},{"s":"VHT","t":10.69,"v":2.75},{"s":"VHT","t":10.71,"v":3.26},{"s":"VHT","t":10.73,"v":3.06},{"s":"VHT","t":10.75,"v":3.3},{"s":"VHT","t":10.78,"v":3.19},{"s":"VHT","t":10.8,"v":3.45},{"s":"VHT","t":10.82,"v":3.28},{"s":"VHT","t":10.84,"v":3.5},{"s":"VHT","t":10.86,"v":3.35},{"s":"VHT","t":10.89,"v":3.66},{"s":"VHT","t":10.91,"v":3.55},{"s":"VHT","t":10.95,"v":3.8},{"s":"VHT","t":10.97,"v":3.7},{"s":"VHT","t":11.0,"v":3.9},{"s":"VHT","t":11.02,"v":3.8},{"s":"VHT","t":11.04,"v":4.0},{"s":"VHT","t":11.06,"v":3.85},{"s":"VHT","t":11.08,"v":3.95},{"s":"VHT","t":11.11,"v":3.8},{"s":"VHT","t":11.13,"v":3.95},{"s":"VHT","t":11.15,"v":3.75},{"s":"VHT","t":11.17,"v":3.9},{"s":"VHT","t":11.19,"v":3.7},{"s":"VHT","t":11.21,"v":3.65},{"s":"VHT","t":11.22,"v":3.95},{"s":"VHT","t":11.24,"v":3.8},{"s":"VHT","t":11.26,"v":4.2},{"s":"VHT","t":11.28,"v":4.35},{"s":"VHT","t":11.3,"v":4.3},{"s":"VHT","t":11.32,"v":4.55},{"s":"VHT","t":11.34,"v":4.4},{"s":"VHT","t":11.36,"v":4.6},{"s":"VHT","t":11.38,"v":4.45},{"s":"VHT","t":11.4,"v":4.62},{"s":"VHT","t":11.42,"v":4.42},{"s":"VHT","t":11.44,"v":4.65},{"s":"VHT","t":11.46,"v":4.48},{"s":"VHT","t":11.48,"v":4.7},{"s":"VHT","t":11.5,"v":4.55},{"s":"VHT","t":11.52,"v":4.75},{"s":"VHT","t":11.54,"v":4.85},{"s":"VHT","t":11.56,"v":5.3},{"s":"VHT","t":11.58,"v":5.8},{"s":"VHT","t":11.6,"v":5.95},{"s":"VHT","t":11.62,"v":6.05},{"s":"VHT","t":11.64,"v":5.88},{"s":"VHT","t":11.66,"v":6.1},{"s":"VHT","t":11.68,"v":5.9},{"s":"VHT","t":11.7,"v":6.12},{"s":"VHT","t":11.72,"v":5.85},{"s":"VHT","t":11.74,"v":6.08},{"s":"VHT","t":11.76,"v":5.92},{"s":"VHT","t":11.78,"v":6.1},{"s":"VHT","t":11.8,"v":5.87},{"s":"VHT","t":11.82,"v":6.05},{"s":"VHT","t":11.84,"v":5.9},{"s":"VHT","t":11.86,"v":6.02},{"s":"VHT","t":11.88,"v":5.75},{"s":"VHT","t":11.9,"v":5.2},{"s":"VHT","t":11.92,"v":5.15},{"s":"VHT","t":11.94,"v":5.88},{"s":"VHT","t":11.96,"v":6.05},{"s":"VHT","t":11.98,"v":5.85},{"s":"VHT","t":12.0,"v":6.1},{"s":"VHT","t":12.02,"v":5.92},{"s":"VHT","t":12.04,"v":6.08},{"s":"VHT","t":12.06,"v":5.86},{"s":"VHT","t":12.08,"v":6.1},{"s":"VHT","t":12.1,"v":5.95},{"s":"VHT","t":12.12,"v":6.05},{"s":"VHT","t":12.14,"v":5.82},{"s":"VHT","t":12.16,"v":6.08},{"s":"VHT","t":12.18,"v":5.9},{"s":"VHT","t":12.2,"v":6.1},{"s":"VHT","t":12.22,"v":5.88},{"s":"VHT","t":12.24,"v":6.06},{"s":"VHT","t":12.26,"v":5.95},{"s":"VHT","t":12.3,"v":4.33},{"s":"VHT","t":12.34,"v":2.39},{"s":"VHT","t":12.36,"v":0.77},{"s":"VHT","t":12.37,"v":0},{"s":"VHT","t":12.47,"v":0},{"s":"VHT","t":12.48,"v":0.24},{"s":"VHT","t":12.5,"v":0.45},{"s":"VHT","t":12.51,"v":0.5},{"s":"VHT","t":12.54,"v":0.5},{"s":"VHT","t":12.555,"v":0.7},{"s":"VHT","t":12.57,"v":0.72},{"s":"VHT","t":12.58,"v":0.62},{"s":"VHT","t":12.59,"v":0.7},{"s":"VHT","t":12.6,"v":0.5},{"s":"VHT","t":12.7,"v":0.47},{"s":"VHT","t":12.87,"v":0.47},{"s":"VHT","t":12.89,"v":0.27},{"s":"VHT","t":12.905,"v":0.47},{"s":"VHT","t":12.92,"v":0.27},{"s":"VHT","t":12.94,"v":0.47},{"s":"VHT","t":12.965,"v":0.27},{"s":"VHT","t":12.985,"v":0.47},{"s":"VHT","t":13,"v":0.47}
],
"ell": [
{"e":"A","i":0,"t":8.114,"v":81.65},{"e":"A","i":1,"t":8.1,"v":83.48},{"e":"A","i":2,"t":8.058,"v":85.18},{"e":"A","i":3,"t":7.991,"v":86.64},{"e":"A","i":4,"t":7.904,"v":87.76},{"e":"A","i":5,"t":7.803,"v":88.47},{"e":"A","i":6,"t":7.694,"v":88.71},{"e":"A","i":7,"t":7.585,"v":88.47},{"e":"A","i":8,"t":7.484,"v":87.76},{"e":"A","i":9,"t":7.397,"v":86.64},{"e":"A","i":10,"t":7.33,"v":85.18},{"e":"A","i":11,"t":7.288,"v":83.48},{"e":"A","i":12,"t":7.274,"v":81.65},{"e":"A","i":13,"t":7.288,"v":79.82},{"e":"A","i":14,"t":7.33,"v":78.12},{"e":"A","i":15,"t":7.397,"v":76.66},{"e":"A","i":16,"t":7.484,"v":75.54},{"e":"A","i":17,"t":7.585,"v":74.83},{"e":"A","i":18,"t":7.694,"v":74.59},{"e":"A","i":19,"t":7.803,"v":74.83},{"e":"A","i":20,"t":7.904,"v":75.54},{"e":"A","i":21,"t":7.991,"v":76.66},{"e":"A","i":22,"t":8.058,"v":78.12},{"e":"A","i":23,"t":8.1,"v":79.82},{"e":"A","i":24,"t":8.114,"v":81.65},
{"e":"B","i":0,"t":8.421,"v":79.6},{"e":"B","i":1,"t":8.419,"v":80.9},{"e":"B","i":2,"t":8.412,"v":82.12},{"e":"B","i":3,"t":8.401,"v":83.16},{"e":"B","i":4,"t":8.387,"v":83.97},{"e":"B","i":5,"t":8.37,"v":84.47},{"e":"B","i":6,"t":8.352,"v":84.64},{"e":"B","i":7,"t":8.334,"v":84.47},{"e":"B","i":8,"t":8.318,"v":83.97},{"e":"B","i":9,"t":8.303,"v":83.16},{"e":"B","i":10,"t":8.292,"v":82.12},{"e":"B","i":11,"t":8.285,"v":80.9},{"e":"B","i":12,"t":8.283,"v":79.6},{"e":"B","i":13,"t":8.285,"v":78.3},{"e":"B","i":14,"t":8.292,"v":77.08},{"e":"B","i":15,"t":8.303,"v":76.04},{"e":"B","i":16,"t":8.318,"v":75.24},{"e":"B","i":17,"t":8.334,"v":74.73},{"e":"B","i":18,"t":8.352,"v":74.56},{"e":"B","i":19,"t":8.37,"v":74.73},{"e":"B","i":20,"t":8.387,"v":75.24},{"e":"B","i":21,"t":8.401,"v":76.04},{"e":"B","i":22,"t":8.412,"v":77.08},{"e":"B","i":23,"t":8.419,"v":78.3},{"e":"B","i":24,"t":8.421,"v":79.6},
{"e":"C","i":0,"t":8.112,"v":65.4},{"e":"C","i":1,"t":8.136,"v":63.07},{"e":"C","i":2,"t":8.133,"v":60.25},{"e":"C","i":3,"t":8.102,"v":57.14},{"e":"C","i":4,"t":8.046,"v":53.96},{"e":"C","i":5,"t":7.969,"v":50.91},{"e":"C","i":6,"t":7.876,"v":48.21},{"e":"C","i":7,"t":7.774,"v":46.05},{"e":"C","i":8,"t":7.668,"v":44.56},{"e":"C","i":9,"t":7.567,"v":43.86},{"e":"C","i":10,"t":7.477,"v":43.99},{"e":"C","i":11,"t":7.405,"v":44.93},{"e":"C","i":12,"t":7.355,"v":46.62},{"e":"C","i":13,"t":7.331,"v":48.96},{"e":"C","i":14,"t":7.334,"v":51.78},{"e":"C","i":15,"t":7.365,"v":54.89},{"e":"C","i":16,"t":7.42,"v":58.07},{"e":"C","i":17,"t":7.497,"v":61.12},{"e":"C","i":18,"t":7.59,"v":63.82},{"e":"C","i":19,"t":7.693,"v":65.98},{"e":"C","i":20,"t":7.799,"v":67.47},{"e":"C","i":21,"t":7.9,"v":68.17},{"e":"C","i":22,"t":7.99,"v":68.04},{"e":"C","i":23,"t":8.062,"v":67.1},{"e":"C","i":24,"t":8.112,"v":65.4},
{"e":"D","i":0,"t":8.421,"v":58.9},{"e":"D","i":1,"t":8.419,"v":59.96},{"e":"D","i":2,"t":8.411,"v":60.95},{"e":"D","i":3,"t":8.4,"v":61.8},{"e":"D","i":4,"t":8.385,"v":62.45},{"e":"D","i":5,"t":8.367,"v":62.86},{"e":"D","i":6,"t":8.348,"v":63.0},{"e":"D","i":7,"t":8.329,"v":62.86},{"e":"D","i":8,"t":8.312,"v":62.45},{"e":"D","i":9,"t":8.296,"v":61.8},{"e":"D","i":10,"t":8.285,"v":60.95},{"e":"D","i":11,"t":8.278,"v":59.96},{"e":"D","i":12,"t":8.275,"v":58.9},{"e":"D","i":13,"t":8.278,"v":57.84},{"e":"D","i":14,"t":8.285,"v":56.85},{"e":"D","i":15,"t":8.296,"v":56.0},{"e":"D","i":16,"t":8.312,"v":55.35},{"e":"D","i":17,"t":8.329,"v":54.94},{"e":"D","i":18,"t":8.348,"v":54.8},{"e":"D","i":19,"t":8.367,"v":54.94},{"e":"D","i":20,"t":8.385,"v":55.35},{"e":"D","i":21,"t":8.4,"v":56.0},{"e":"D","i":22,"t":8.411,"v":56.85},{"e":"D","i":23,"t":8.419,"v":57.84},{"e":"D","i":24,"t":8.421,"v":58.9},
{"e":"E","i":0,"t":12.287,"v":82.86},{"e":"E","i":1,"t":12.283,"v":84.01},{"e":"E","i":2,"t":12.273,"v":85.08},{"e":"E","i":3,"t":12.256,"v":86.0},{"e":"E","i":4,"t":12.234,"v":86.71},{"e":"E","i":5,"t":12.208,"v":87.15},{"e":"E","i":6,"t":12.181,"v":87.3},{"e":"E","i":7,"t":12.154,"v":87.15},{"e":"E","i":8,"t":12.128,"v":86.71},{"e":"E","i":9,"t":12.106,"v":86.0},{"e":"E","i":10,"t":12.089,"v":85.08},{"e":"E","i":11,"t":12.079,"v":84.01},{"e":"E","i":12,"t":12.075,"v":82.86},{"e":"E","i":13,"t":12.079,"v":81.71},{"e":"E","i":14,"t":12.089,"v":80.64},{"e":"E","i":15,"t":12.106,"v":79.72},{"e":"E","i":16,"t":12.128,"v":79.02},{"e":"E","i":17,"t":12.154,"v":78.57},{"e":"E","i":18,"t":12.181,"v":78.42},{"e":"E","i":19,"t":12.208,"v":78.57},{"e":"E","i":20,"t":12.234,"v":79.02},{"e":"E","i":21,"t":12.256,"v":79.72},{"e":"E","i":22,"t":12.273,"v":80.64},{"e":"E","i":23,"t":12.283,"v":81.71},{"e":"E","i":24,"t":12.287,"v":82.86},
{"e":"F","i":0,"t":12.282,"v":47.24},{"e":"F","i":1,"t":12.28,"v":48.68},{"e":"F","i":2,"t":12.271,"v":50.03},{"e":"F","i":3,"t":12.258,"v":51.19},{"e":"F","i":4,"t":12.241,"v":52.07},{"e":"F","i":5,"t":12.221,"v":52.63},{"e":"F","i":6,"t":12.2,"v":52.82},{"e":"F","i":7,"t":12.179,"v":52.63},{"e":"F","i":8,"t":12.159,"v":52.07},{"e":"F","i":9,"t":12.142,"v":51.19},{"e":"F","i":10,"t":12.129,"v":50.03},{"e":"F","i":11,"t":12.12,"v":48.68},{"e":"F","i":12,"t":12.118,"v":47.24},{"e":"F","i":13,"t":12.12,"v":45.8},{"e":"F","i":14,"t":12.129,"v":44.45},{"e":"F","i":15,"t":12.142,"v":43.29},{"e":"F","i":16,"t":12.159,"v":42.41},{"e":"F","i":17,"t":12.179,"v":41.85},{"e":"F","i":18,"t":12.2,"v":41.66},{"e":"F","i":19,"t":12.221,"v":41.85},{"e":"F","i":20,"t":12.241,"v":42.41},{"e":"F","i":21,"t":12.258,"v":43.29},{"e":"F","i":22,"t":12.271,"v":44.45},{"e":"F","i":23,"t":12.28,"v":45.8},{"e":"F","i":24,"t":12.282,"v":47.24}
]
},
"encoding": {
 "x": {"field": "t", "type": "quantitative", "scale": {"domain": [7, 13], "nice": false, "zero": false},
  "axis": {"values": [7, 7.5, 8, 8.5, 9, 9.5, 10, 10.5, 11, 11.5, 12, 12.5, 13], "labelExpr": "datum.value % 1 == 0 ? format(datum.value, 'd') : ''", "labelFlush": false, "labelOverlap": false, "labelPadding": 18, "title": "Stunde", "titleFontSize": 22, "titleY": 56, "titleBaseline": "top", "grid": true, "domain": false}}
},
"layer": [
 {
  "encoding": {"y": {"field": "v", "type": "quantitative", "scale": {"domain": [-20, 100], "nice": false, "zero": false},
   "axis": {"values": [-20, -10, 0, 10, 20, 30, 40, 50, 60, 70, 80, 90, 100], "labelExpr": "datum.value >= 0 ? datum.label : ''", "labelPadding": 12, "title": "Temperatur [°C]", "titleAngle": 270, "titleX": -66, "titleY": 418, "titleBaseline": "bottom", "titleAlign": "center", "grid": true, "domain": false}}},
  "layer": [
   {"data": {"name": "temp"}, "mark": {"type": "line", "strokeWidth": 2},
    "encoding": {"color": {"field": "s", "type": "nominal",
     "scale": {"domain": ["TNW1", "TPS1o", "VNW", "VHT", "TNW2", "TSS2", "VSS"], "range": ["#FF0000", "#008000", "#FF0000", "#808080", "#00FF00", "#0000FF", "#0000FF"]},
     "legend": {"orient": "none", "legendX": 3, "legendY": 689, "columns": 2, "columnPadding": 149, "rowPadding": 0, "clipHeight": 22, "symbolType": "stroke", "symbolSize": 1369, "symbolStrokeWidth": 2.5, "symbolOffset": 45, "labelOffset": 7, "labelFontSize": 21.5, "labelFont": "Liberation Sans", "labelColor": "#000", "labelLimit": 700, "padding": 5, "strokeColor": "#777", "fillColor": "#fff", "title": " ", "titleOrient": "right", "titlePadding": 42, "titleFontSize": 10,
      "labelExpr": "datum.label == 'TNW1' ? 'TNW1 Netzvorlauftemperatur' : datum.label == 'TNW2' ? 'TNW2 Netzrücklauftemperatur' : datum.label == 'TPS1o' ? 'TPS1o Temp. PS 1 oben' : datum.label == 'TSS2' ? 'TSS2 Temp. Entladekreis Solarpuffer RL' : datum.label == 'VNW' ? 'VNW Volumenstrom Wärmenetz' : datum.label == 'VSS' ? 'VSS Volumenstrom Entladung Solarpuffer' : 'VHT Volumenstrom Kesselkreis'"}}}},
   {"data": {"name": "ell"}, "mark": {"type": "line", "color": "#FF00FF", "strokeDash": [5, 3], "strokeWidth": 1.4},
    "encoding": {"detail": {"field": "e", "type": "nominal"}, "order": {"field": "i", "type": "quantitative"}}}
  ]
 },
 {"data": {"name": "flow"}, "mark": {"type": "line", "strokeWidth": 1.5},
  "encoding": {
   "y": {"field": "v", "type": "quantitative", "scale": {"domain": [0, 12], "nice": false, "zero": false},
    "axis": {"orient": "right", "values": [0, 1, 2, 3, 4, 5, 6, 7, 8, 9, 10, 11, 12], "labelExpr": "datum.value <= 7 ? datum.label : ''", "labelPadding": 12, "title": "Volumenstrom [m³/h]", "titleAngle": 270, "titleX": 87, "titleY": 484, "titleBaseline": "bottom", "titleAlign": "center", "grid": false, "domain": true, "domainWidth": 2.5}},
   "color": {"field": "s", "type": "nominal",
    "scale": {"domain": ["TNW1", "TPS1o", "VNW", "VHT", "TNW2", "TSS2", "VSS"], "range": ["#FF0000", "#008000", "#FF0000", "#808080", "#00FF00", "#0000FF", "#0000FF"]}}
  }
 }
],
"resolve": {"scale": {"y": "independent"}}
}
